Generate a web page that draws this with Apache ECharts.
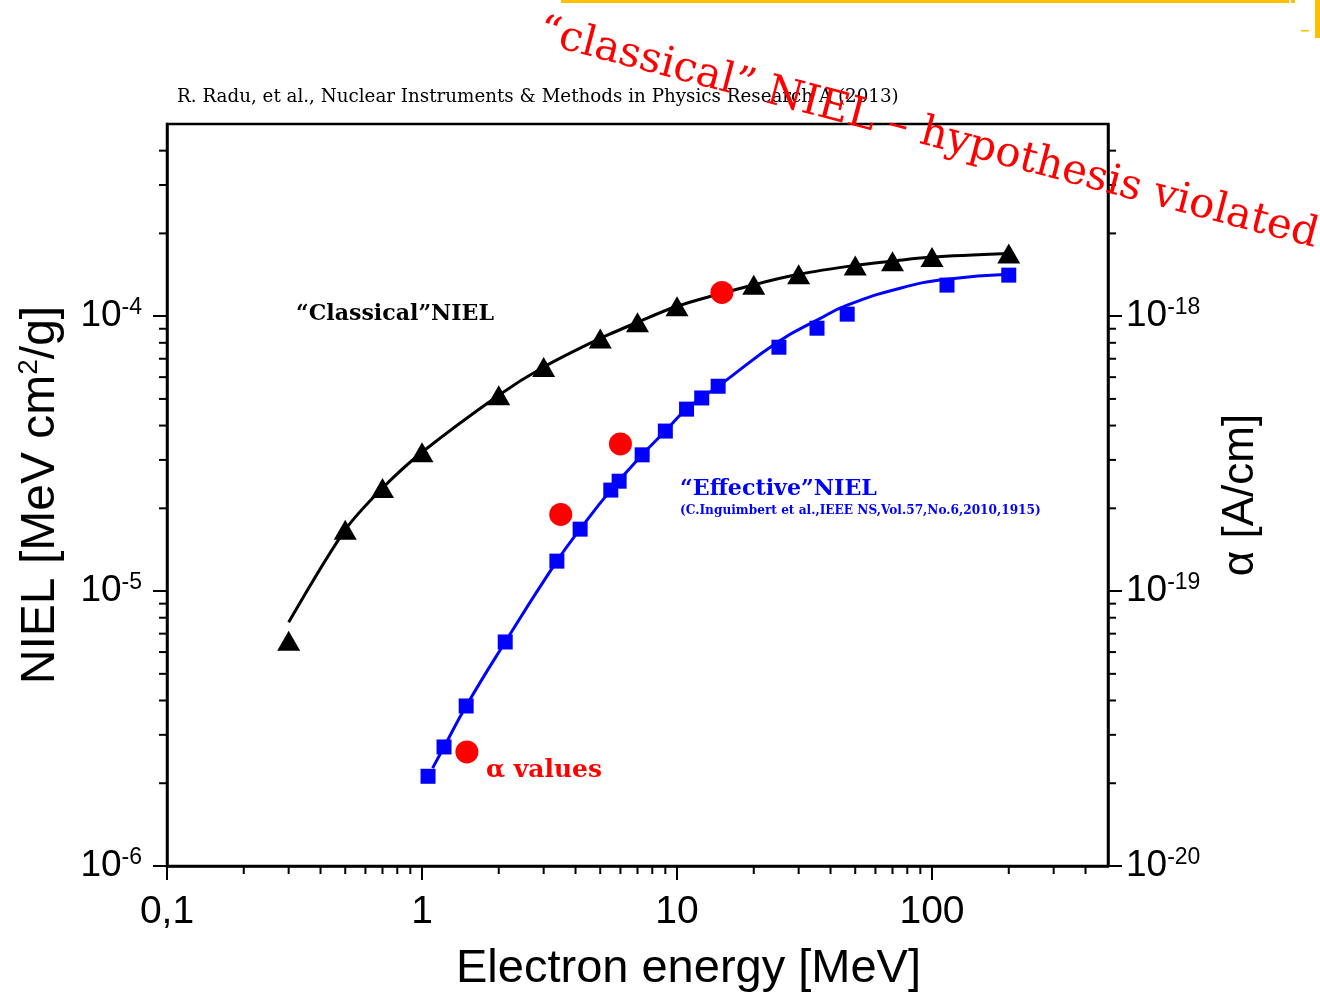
<!DOCTYPE html>
<html><head><meta charset="utf-8">
<script src="https://cdn.jsdelivr.net/npm/echarts@6/dist/echarts.min.js"></script>
<style>html,body{margin:0;padding:0;background:#fff;}#c{width:1320px;height:996px;}</style>
</head><body><div id="c"></div>
<script>
// ---------------- data ----------------
const classicalE    = [0.3, 0.5, 0.7, 1, 2, 3, 5, 7, 10, 20, 30, 50, 70, 100, 200];
const classicalNIEL = [6.6e-6, 1.67e-5, 2.37e-5, 3.2e-5, 5.16e-5, 6.53e-5, 8.3e-5, 9.5e-5, 1.087e-4, 1.30e-4, 1.42e-4, 1.53e-4, 1.585e-4, 1.64e-4, 1.69e-4];
const classicalFitE    = [0.3, 0.5, 0.7, 1, 2, 3, 5, 7, 10, 20, 30, 50, 70, 100, 200];
const classicalFitNIEL = [7.7e-6, 1.67e-5, 2.37e-5, 3.2e-5, 5.16e-5, 6.53e-5, 8.3e-5, 9.5e-5, 1.087e-4, 1.30e-4, 1.42e-4, 1.53e-4, 1.585e-4, 1.64e-4, 1.69e-4];
const effectiveE    = [1.056, 1.22, 1.49, 2.12, 3.38, 4.17, 5.5, 5.93, 7.3, 9.0, 10.9, 12.5, 14.5, 25.1, 35.4, 46.5, 114.5, 200];
const effectiveNIEL = [2.12e-6, 2.71e-6, 3.82e-6, 6.53e-6, 1.285e-5, 1.68e-5, 2.33e-5, 2.51e-5, 3.13e-5, 3.82e-5, 4.59e-5, 5.04e-5, 5.56e-5, 7.71e-5, 9.04e-5, 1.017e-4, 1.297e-4, 1.41e-4];
const effectiveFitE    = [1.10, 1.22, 1.49, 2.12, 3.38, 4.17, 5.5, 7.3, 9.0, 10.9, 14.5, 25.1, 35.4, 46.5, 75, 114.5, 200];
const effectiveFitNIEL = [2.27e-6, 2.71e-6, 3.82e-6, 6.53e-6, 1.285e-5, 1.68e-5, 2.33e-5, 3.13e-5, 3.82e-5, 4.59e-5, 5.56e-5, 8.11e-5, 9.67e-5, 1.096e-4, 1.264e-4, 1.363e-4, 1.42e-4];
const alphaE      = [1.5, 3.5, 6, 15];
const alphaValues = [2.6e-20, 1.9e-19, 3.43e-19, 1.22e-18];

// ---------------- axes / ticks ----------------
const xRange = [0.1, 490];
const yRange = [1e-6, 5e-4];
const aRange = [1e-20, 5e-18];
const xMajorTicks = [0.1, 1, 10, 100];
const xTickLabels = ['0,1', '1', '10', '100'];
const yMajorTicks = [1e-6, 1e-5, 1e-4];
const yTickExponents = ['-6', '-5', '-4'];
const aMajorTicks = [1e-20, 1e-19, 1e-18];
const aTickExponents = ['-20', '-19', '-18'];
const minorMultipliers = [2, 3, 4, 5, 6, 7, 8, 9];

const titleText = 'R. Radu, et al., Nuclear Instruments & Methods in Physics Research A (2013)';
const bannerText = '\u201cclassical\u201d NIEL \u2013 hypothesis violated';
const classicalLabel = '\u201cClassical\u201dNIEL';
const effectiveLabel = '\u201cEffective\u201dNIEL';
const effectiveRef = '(C.Inguimbert et al.,IEEE NS,Vol.57,No.6,2010,1915)';
const alphaLabel = '\u03b1 values';
const xName = 'Electron energy [MeV]';
const aName = '\u03b1 [A/cm]';

// ---------------- helpers ----------------
function minorTicks(range) {
  const out = [];
  const start = Math.floor(Math.log10(range[0]) + 1e-9);
  const end = Math.ceil(Math.log10(range[1]) - 1e-9);
  for (let e = start; e <= end; e++) {
    minorMultipliers.forEach(m => {
      const v = m * Math.pow(10, e);
      if (v > range[0] * 1.0001 && v < range[1] * 0.9999) out.push(v);
    });
  }
  return out;
}
const meas = document.createElement('canvas').getContext('2d');
function fitSize(text, family, weight, target) {
  meas.font = weight + ' 100px ' + family;
  return 100 * target / meas.measureText(text).width;
}
function nearIdx(arr, v) {
  for (let i = 0; i < arr.length; i++) if (Math.abs(Math.log10(arr[i]) - Math.log10(v)) < 1e-6) return i;
  return -1;
}
const SANS = "'Liberation Sans', Arial, sans-serif";
const SERIF = "'DejaVu Serif', Georgia, serif";
const xTickFont = 39, yTickFont = 37, supFont = 23;

const chart = echarts.init(document.getElementById('c'), null, {renderer: 'canvas'});

function supLabel(exps, majors) {
  return function (v) {
    const i = nearIdx(majors, v);
    if (i < 0) return '';
    return '{b|10}{s|' + exps[i] + '}';
  };
}
const supRich = {
  b: {fontSize: yTickFont, fontFamily: SANS, color: '#000', lineHeight: 40},
  s: {fontSize: supFont, fontFamily: SANS, color: '#000', verticalAlign: 'top', lineHeight: 24}
};

function tickSeries(name, data, xIdx, yIdx, dx, dy) {
  return {
    type: 'custom', name: name, xAxisIndex: xIdx, yAxisIndex: yIdx, silent: true, clip: false, z: 10,
    data: data,
    renderItem: function (params, api) {
      const p = api.coord([api.value(0), api.value(1)]);
      return {type: 'line', shape: {x1: p[0], y1: p[1], x2: p[0] + dx, y2: p[1] + dy},
              style: {stroke: '#000', lineWidth: 2}};
    }
  };
}

const axisLineStyle = {show: true, onZero: false, lineStyle: {color: '#000', width: 2.5}};

const option = {
  backgroundColor: '#fff',
  animation: false,
  grid: {left: 167, right: 212, top: 124, bottom: 130, containLabel: false, outerBoundsMode: 'none',
         show: true, borderColor: '#000', borderWidth: 2.5, backgroundColor: 'transparent'},
  xAxis: [{
    type: 'log', logBase: 10, min: xRange[0], max: xRange[1], position: 'bottom',
    axisLine: axisLineStyle,
    axisTick: {show: true, length: 14, lineStyle: {color: '#000', width: 2}},
    minorTick: {show: false}, splitLine: {show: false},
    axisLabel: {show: true, showMaxLabel: false, margin: 27, fontSize: xTickFont, fontFamily: SANS, color: '#000',
      formatter: function (v) { const i = nearIdx(xMajorTicks, v); return i < 0 ? '' : xTickLabels[i]; }},
    name: xName, nameLocation: 'middle', nameGap: 80,
    nameTextStyle: {fontSize: 47, fontFamily: SANS, color: '#000', padding: [0, 0, 0, 102]}
  }],
  yAxis: [{
    type: 'log', logBase: 10, min: yRange[0], max: yRange[1], position: 'left',
    axisLine: axisLineStyle,
    axisTick: {show: true, length: 14, lineStyle: {color: '#000', width: 2}},
    minorTick: {show: false}, splitLine: {show: false},
    axisLabel: {show: true, showMaxLabel: false, margin: 25, formatter: supLabel(yTickExponents, yMajorTicks), rich: supRich},
    name: '{n|NIEL [MeV cm}{s|2}{n|/g]}', nameLocation: 'middle', nameGap: 100, nameRotate: 90,
    nameTextStyle: {rich: {
      n: {fontSize: 48, fontFamily: SANS, color: '#000', lineHeight: 52},
      s: {fontSize: 28, fontFamily: SANS, color: '#000', verticalAlign: 'top', lineHeight: 30}
    }}
  }, {
    type: 'log', logBase: 10, min: aRange[0], max: aRange[1], position: 'right',
    axisLine: axisLineStyle,
    axisTick: {show: true, length: 14, lineStyle: {color: '#000', width: 2}},
    minorTick: {show: false}, splitLine: {show: false},
    axisLabel: {show: true, showMaxLabel: false, margin: 18, formatter: supLabel(aTickExponents, aMajorTicks), rich: supRich},
    name: aName, nameLocation: 'middle', nameGap: 111, nameRotate: 90,
    nameTextStyle: {fontSize: 44, fontFamily: SANS, color: '#000'}
  }],
  series: [
    tickSeries('x minor', minorTicks(xRange).map(v => [v, yRange[0]]), 0, 0, 0, 8),
    tickSeries('y minor', minorTicks(yRange).map(v => [xRange[0], v]), 0, 0, -8, 0),
    tickSeries('alpha minor', minorTicks(aRange).map(v => [xRange[1], v]), 0, 1, 8, 0),
    {
      type: 'line', name: 'classical fit', xAxisIndex: 0, yAxisIndex: 0, smooth: 0.3, showSymbol: false, symbol: 'none',
      data: classicalFitE.map((e, i) => [e, classicalFitNIEL[i]]),
      lineStyle: {color: '#000', width: 3}, z: 2
    },
    {
      type: 'line', name: 'effective fit', xAxisIndex: 0, yAxisIndex: 0, smooth: 0.5, showSymbol: false, symbol: 'none',
      data: effectiveFitE.map((e, i) => [e, effectiveFitNIEL[i]]),
      lineStyle: {color: '#0000ff', width: 3}, z: 2
    },
    {
      type: 'scatter', name: 'classical NIEL', xAxisIndex: 0, yAxisIndex: 0, symbol: 'triangle', symbolSize: [23, 20],
      data: classicalE.map((e, i) => [e, classicalNIEL[i]]),
      itemStyle: {color: '#000', opacity: 1}, z: 3
    },
    {
      type: 'scatter', name: 'effective NIEL', xAxisIndex: 0, yAxisIndex: 0, symbol: 'rect', symbolSize: 15,
      data: effectiveE.map((e, i) => [e, effectiveNIEL[i]]),
      itemStyle: {color: '#0000ff', opacity: 1}, z: 3
    },
    {
      type: 'scatter', name: 'alpha', xAxisIndex: 0, yAxisIndex: 1, symbol: 'circle', symbolSize: 23,
      data: alphaE.map((e, i) => [e, alphaValues[i]]),
      itemStyle: {color: '#ff0000', opacity: 1}, z: 4
    }
  ],
  graphic: [
    {type: 'rect', shape: {x: 561, y: 0, width: 728, height: 3}, style: {fill: '#ffc000'}, silent: true},
    {type: 'rect', shape: {x: 1291, y: 0, width: 4, height: 3}, style: {fill: '#ffc000'}, silent: true},
    {type: 'rect', shape: {x: 1315, y: 0, width: 5, height: 38}, style: {fill: '#ffc000'}, silent: true},
    {type: 'rect', shape: {x: 1301, y: 30, width: 8, height: 1.5}, style: {fill: '#ffc000'}, silent: true},
    {type: 'text', x: 177, y: 97, silent: true, style: {text: titleText, font: 'normal ' + fitSize(titleText, SERIF, 'normal', 722).toFixed(2) + 'px ' + SERIF, fill: '#000', align: 'left', verticalAlign: 'middle'}},
    {type: 'text', x: 395, y: 314, silent: true, style: {text: classicalLabel, font: 'bold ' + fitSize(classicalLabel, SERIF, 'bold', 198).toFixed(2) + 'px ' + SERIF, fill: '#000', align: 'center', verticalAlign: 'middle'}},
    {type: 'text', x: 680, y: 489, silent: true, style: {text: effectiveLabel, font: 'bold ' + fitSize(effectiveLabel, SERIF, 'bold', 197).toFixed(2) + 'px ' + SERIF, fill: '#0000ff', align: 'left', verticalAlign: 'middle'}},
    {type: 'text', x: 680, y: 511, silent: true, style: {text: effectiveRef, font: 'bold ' + fitSize(effectiveRef, SERIF, 'bold', 361).toFixed(2) + 'px ' + SERIF, fill: '#0000ff', align: 'left', verticalAlign: 'middle'}},
    {type: 'text', x: 486, y: 771, silent: true, style: {text: alphaLabel, font: 'bold ' + fitSize(alphaLabel, SERIF, 'bold', 116).toFixed(2) + 'px ' + SERIF, fill: '#ff0000', align: 'left', verticalAlign: 'middle'}},
    {type: 'text', x: 928, y: 134, rotation: -0.258, silent: true, z: 100, style: {text: bannerText, font: 'normal ' + fitSize(bannerText, SERIF, 'normal', 805).toFixed(2) + 'px ' + SERIF, fill: '#ff0000', align: 'center', verticalAlign: 'middle'}}
  ]
};
chart.setOption(option);
</script>
</body></html>
